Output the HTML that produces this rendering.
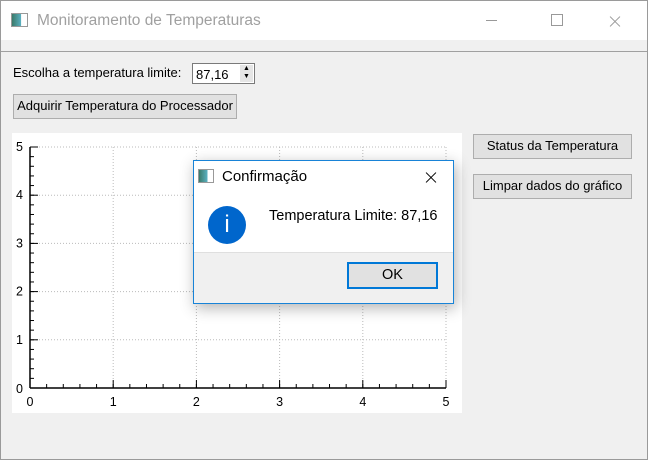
<!DOCTYPE html>
<html><head><meta charset="utf-8"><style>
body{margin:0;width:648px;height:460px;overflow:hidden;font-family:"Liberation Sans",sans-serif;background:#f0f0f0;position:relative}
div,span{position:absolute;box-sizing:border-box}
.btn{background:#e1e1e1;border:1px solid #adadad;font-size:13px;color:#000;text-align:center;line-height:22px}
.x1,.x2{position:absolute;left:0;top:50%;width:100%;height:1px}
.x1{transform:rotate(45deg)}.x2{transform:rotate(-45deg)}
</style></head><body>
<div style="left:0;top:0;width:648px;height:460px;border:1px solid #9a9a9a"></div>
<div style="left:1px;top:1px;width:646px;height:39px;background:#fff">
 <span style="left:10px;top:12px;width:17px;height:14px;border:1px solid #999;background:linear-gradient(90deg,#3a7a6a,#5ab0c0 60%,#fff 62%)"></span>
 <span style="left:36px;top:11px;font-size:15.5px;color:#a0a0a0">Monitoramento de Temperaturas</span>
 <span style="left:485px;top:19px;width:11px;height:1px;background:#999"></span>
 <span style="left:550px;top:13px;width:12px;height:12px;border:1px solid #999"></span>
 <span style="left:607px;top:13px;width:14px;height:14px"><span class="x1" style="background:#999"></span><span class="x2" style="background:#999"></span></span>
</div>
<div style="left:1px;top:40px;width:646px;height:12px;background:#f0f0f0;border-bottom:1px solid #a0a0a0"></div>
<span style="left:13px;top:65px;font-size:13px">Escolha a temperatura limite:</span>
<div style="left:192px;top:63px;width:63px;height:21px;background:#fff;border:1px solid #7a7a7a;font-size:13px;padding:3px 0 0 3px">87,16
 <span style="right:1px;top:1px;width:13px;height:17px;background:#e5e5e5;font-size:7px;line-height:8px;text-align:center">▲<br>▼</span></div>
<div class="btn" style="left:13px;top:94px;width:224px;height:25px">Adquirir Temperatura do Processador</div>
<div class="btn" style="left:473px;top:134px;width:159px;height:25px">Status da Temperatura</div>
<div class="btn" style="left:473px;top:174px;width:159px;height:25px">Limpar dados do gráfico</div>
<svg id="chart" style="position:absolute;left:0;top:0" width="648" height="460"></svg>
<div style="left:193px;top:160px;width:261px;height:144px;box-shadow:2px 4px 14px rgba(0,0,0,0.3)"></div>
<div style="left:193px;top:160px;width:261px;height:144px;border:1px solid #1883d7;background:#f0f0f0">
 <div style="left:0;top:0;width:259px;height:92px;background:#fff;border-bottom:1px solid #dfdfdf"></div>
 <span style="left:4px;top:8px;width:16px;height:14px;border:1px solid #999;background:linear-gradient(90deg,#3a7a6a,#5ab0c0 60%,#fff 62%)"></span>
 <span style="left:28px;top:7px;font-size:15px">Confirmação</span>
 <span style="left:230px;top:9px;width:14px;height:14px"><span class="x1" style="background:#000"></span><span class="x2" style="background:#000"></span></span>
 <span style="left:14px;top:45px;width:38px;height:38px;border-radius:50%;background:#0066cc;color:#fff;text-align:center;font-size:24px;line-height:38px">i</span>
 <span style="left:75px;top:47px;font-size:14.5px">Temperatura Limite: 87,16</span>
 <div style="left:153px;top:101px;width:91px;height:27px;background:#e1e1e1;border:2px solid #0078d7;text-align:center;font-size:14.5px;line-height:23px">OK</div>
</div>
<script>
const xTicks=[0,1,2,3,4,5];
const yTicks=[0,1,2,3,4,5];
const xMin=0,xMax=5,yMin=0,yMax=5;
const svg=document.getElementById('chart');
const NS='http://www.w3.org/2000/svg';
const X0=30,X1=446,Y0=388,Y1=147;
function sx(v){return X0+(v-xMin)/(xMax-xMin)*(X1-X0);}
function sy(v){return Y0-(v-yMin)/(yMax-yMin)*(Y0-Y1);}
function el(t,a){const e=document.createElementNS(NS,t);for(const k in a)e.setAttribute(k,a[k]);svg.appendChild(e);return e;}
const bg=el('rect',{x:12,y:133,width:450,height:280,fill:'#fff'});


xTicks.forEach(v=>{if(v>0){const g=el('line',{x1:sx(v),x2:sx(v),y1:Y0,y2:Y1,stroke:'#bbb','stroke-dasharray':'1,2'});

}
const t=el('text',{x:sx(v),y:Y0+18,'font-size':12.5,'text-anchor':'middle','font-family':'Liberation Sans'});t.textContent=v;


el('line',{x1:sx(v),x2:sx(v),y1:Y0,y2:Y0-8,stroke:'#000'});});
yTicks.forEach(v=>{if(v>0){const g=el('line',{x1:X0,x2:X1,y1:sy(v),y2:sy(v),stroke:'#bbb','stroke-dasharray':'1,2'});

}
const t=el('text',{x:X0-14,y:sy(v)+(v===0?5:4),'font-size':12.5,'text-anchor':'start','font-family':'Liberation Sans'});t.textContent=v;


el('line',{x1:X0,x2:X0+8,y1:sy(v),y2:sy(v),stroke:'#000'});});
for(let v=0.2;v<5;v+=0.2){el('line',{x1:sx(v),x2:sx(v),y1:Y0,y2:Y0-4,stroke:'#000'});el('line',{x1:X0,x2:X0+4,y1:sy(v),y2:sy(v),stroke:'#000'});}
const xa=el('line',{x1:X0,x2:X1,y1:Y0,y2:Y0,stroke:'#000','stroke-width':1.5});


const ya=el('line',{x1:X0,x2:X0,y1:Y0,y2:Y1,stroke:'#000','stroke-width':1.5});


</script>
</body></html>
